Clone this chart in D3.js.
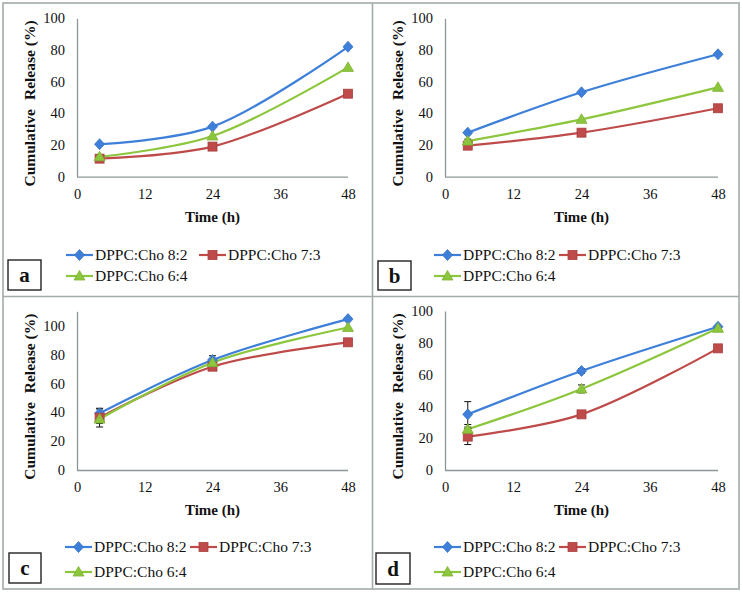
<!DOCTYPE html>
<html><head><meta charset="utf-8">
<script src="https://cdn.jsdelivr.net/npm/d3@7"></script>
<style>body{margin:0;background:#fff}svg{display:block}</style>
</head><body>
<script>
// ---- data ----
const hours = [4, 24, 48];
const xTicks = [0, 12, 24, 36, 48];
const yTicks = [0, 20, 40, 60, 80, 100];
const seriesNames = ["DPPC:Cho 8:2", "DPPC:Cho 7:3", "DPPC:Cho 6:4"];
const panelLetters = ["a", "b", "c", "d"];
const yMaxes = [100, 100, 110, 100];
// values: [8:2, 7:3, 6:4] at 4, 24, 48 h
const aValues = [[20.5, 31.6, 82.0], [11.4, 19.0, 52.4], [12.6, 25.7, 69.0]];
const bValues = [[27.8, 53.3, 77.3], [19.6, 27.8, 43.2], [22.5, 36.2, 56.4]];
const cValues = [[39.3, 76.2, 104.6], [36.3, 71.6, 88.5], [35.3, 74.4, 98.8]];
const dValues = [[35.0, 62.3, 90.1], [21.0, 35.0, 76.5], [25.6, 51.0, 89.1]];
const aErrors = [[0.5, 0.5, 0.5], [0.5, 0.5, 0.5], [0.5, 0.5, 0.5]];
const bErrors = [[0.8, 0.8, 0.5], [0.8, 0.8, 0.5], [1.2, 0.8, 0.5]];
const cErrors = [[3.0, 3.0, 0.5], [6.5, 1.5, 0.5], [3.0, 2.0, 0.5]];
const dErrors = [[8.0, 1.5, 0.5], [5.0, 0.8, 0.5], [3.0, 2.5, 0.5]];

const allValues = [aValues, bValues, cValues, dValues];
const allErrors = [aErrors, bErrors, cErrors, dErrors];

// ---- style/layout ----
const colors = ["#3d7fd9", "#bf4a4a", "#8cc63c"];
const W = 742, H = 595;
const FONT = '"Liberation Serif"';
const panels = [
  {x0: 77, x1: 348, y0: 176.7, yTop: 18.3, box: [8, 260, 33, 30], leg: [66, 199, 255, 276]},
  {x0: 445, x1: 718, y0: 176.7, yTop: 18.3, box: [378, 261, 33, 29], leg: [434, 559, 255, 276]},
  {x0: 77, x1: 348, y0: 470, yTop: 311.3, box: [9, 553, 32, 30], leg: [65, 190, 547, 572]},
  {x0: 445, x1: 718, y0: 470, yTop: 311, box: [376, 553, 34, 31], leg: [434, 559, 547, 572]}
];

const svg = d3.select("body").append("svg").attr("width", W).attr("height", H);

// frame
const frame = "#a3abab";
svg.append("rect").attr("x", 3).attr("y", 3).attr("width", 736).attr("height", 586)
  .attr("fill", "none").attr("stroke", frame).attr("stroke-width", 1.6);
svg.append("line").attr("x1", 372.5).attr("x2", 372.5).attr("y1", 3).attr("y2", 589)
  .attr("stroke", frame).attr("stroke-width", 1.6);
svg.append("line").attr("x1", 3).attr("x2", 739).attr("y1", 296.5).attr("y2", 296.5)
  .attr("stroke", frame).attr("stroke-width", 1.6);

function marker(g, i, cx, cy) {
  if (i === 0) {
    g.append("path").attr("d", `M${cx},${cy - 5.5}L${cx + 5},${cy}L${cx},${cy + 5.5}L${cx - 5},${cy}Z`)
      .attr("fill", colors[0]).attr("stroke", "#3a72c4").attr("stroke-width", 0.8);
  } else if (i === 1) {
    g.append("rect").attr("x", cx - 4.5).attr("y", cy - 4.5).attr("width", 9).attr("height", 9)
      .attr("fill", colors[1]).attr("stroke", "#a84040").attr("stroke-width", 0.8);
  } else {
    g.append("path").attr("d", `M${cx},${cy - 5.5}L${cx + 5.5},${cy + 4}L${cx - 5.5},${cy + 4}Z`)
      .attr("fill", colors[2]).attr("stroke", "#7db335").attr("stroke-width", 0.8);
  }
}

panels.forEach((p, pi) => {
  const g = svg.append("g");
  const x = d3.scaleLinear().domain([0, 48]).range([p.x0, p.x1]);
  const y = d3.scaleLinear().domain([0, yMaxes[pi]]).range([p.y0, p.yTop]);

  // axes
  const xAxis = g.append("g").attr("transform", `translate(0,${p.y0})`)
    .call(d3.axisBottom(x).tickValues(xTicks).tickSize(0).tickPadding(12).tickFormat(d3.format("d")));
  const yAxis = g.append("g").attr("transform", `translate(${p.x0},0)`)
    .call(d3.axisLeft(y).tickValues(yTicks).tickSize(0).tickPadding(12).tickFormat(d3.format("d")));
  [xAxis, yAxis].forEach(a => {
    a.attr("font-family", null);
    a.select(".domain").attr("stroke", "#8d9797").attr("stroke-width", 1.3);
    a.selectAll("text").style("font-family", FONT).attr("font-size", 14.5).attr("fill", "#111");
  });
  xAxis.select(".domain").attr("d", `M${p.x0},0.5H${p.x1}`);

  // axis titles
  g.append("text").attr("x", (p.x0 + p.x1) / 2).attr("y", p.y0 + 45)
    .style("font-family", FONT)
    .attr("text-anchor", "middle").attr("font-weight", "bold").attr("font-size", 15).attr("fill", "#111")
    .text("Time (h)");
  const cy = (p.y0 + p.yTop) / 2 + 6;
  const yt = g.append("text").attr("transform", `translate(${p.x0 - 42},${cy}) rotate(-90)`)
    .style("font-family", FONT)
    .attr("text-anchor", "middle").attr("font-weight", "bold").attr("font-size", 15.5).attr("fill", "#111");
  yt.append("tspan").style("font-family", FONT).text("Cumulative");
  yt.append("tspan").style("font-family", FONT).attr("dx", 9).text("Release (%)");

  const vals = allValues[pi], errs = allErrors[pi];
  const line = d3.line().x((d, k) => x(hours[k])).y(d => y(d)).curve(d3.curveCatmullRom.alpha(0.5));

  // lines
  vals.forEach((s, i) => {
    g.append("path").attr("d", line(s)).attr("fill", "none")
      .attr("stroke", colors[i]).attr("stroke-width", 2.2);
  });
  // error bars
  vals.forEach((s, i) => {
    s.forEach((v, k) => {
      const e = errs[i][k];
      if (e < 1) return;
      const cx = x(hours[k]);
      g.append("path")
        .attr("d", `M${cx},${y(v - e)}V${y(v + e)}M${cx - 3.5},${y(v - e)}H${cx + 3.5}M${cx - 3.5},${y(v + e)}H${cx + 3.5}`)
        .attr("stroke", "#111").attr("stroke-width", 1).attr("fill", "none");
    });
  });
  // markers
  vals.forEach((s, i) => {
    s.forEach((v, k) => marker(g, i, x(hours[k]), y(v)));
  });

  // legend
  const [lx1, lx2, ly1, ly2] = p.leg;
  const legPos = [[lx1, ly1], [lx2, ly1], [lx1, ly2]];
  seriesNames.forEach((name, i) => {
    const [lx, ly] = legPos[i];
    g.append("line").attr("x1", lx).attr("x2", lx + 27).attr("y1", ly).attr("y2", ly)
      .attr("stroke", colors[i]).attr("stroke-width", 2.2);
    marker(g, i, lx + 13.5, ly);
    g.append("text").attr("x", lx + 29).attr("y", ly + 5).style("font-family", FONT)
      .attr("font-size", 15.5).attr("fill", "#111")
      .text(name);
  });

  // letter box
  const [bx, by, bw, bh] = p.box;
  g.append("rect").attr("x", bx).attr("y", by).attr("width", bw).attr("height", bh)
    .attr("fill", "#fff").attr("stroke", "#222").attr("stroke-width", 1.4);
  g.append("text").attr("x", bx + bw / 2).attr("y", by + bh / 2 + 7).style("font-family", FONT)
    .attr("text-anchor", "middle").attr("font-weight", "bold").attr("font-size", 21).attr("fill", "#111")
    .text(panelLetters[pi]);
});
</script>
</body></html>
